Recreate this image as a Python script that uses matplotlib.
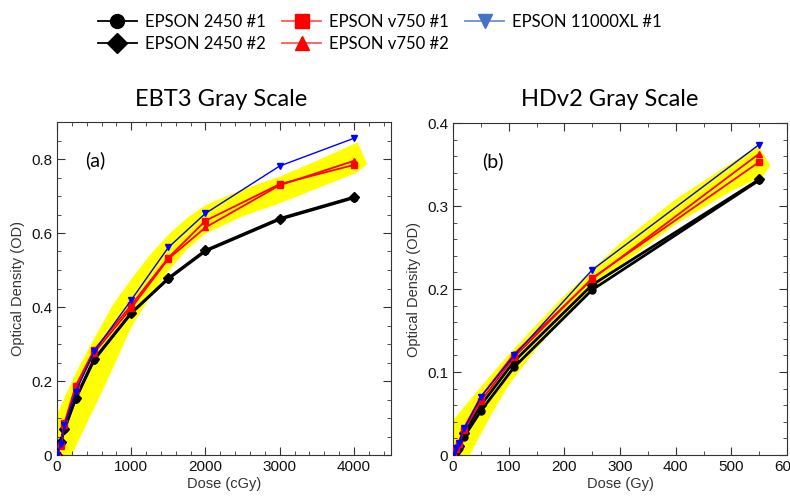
import numpy as np
import matplotlib
matplotlib.use('Agg')
import matplotlib.pyplot as plt
from matplotlib.lines import Line2D
from matplotlib.ticker import MultipleLocator, FuncFormatter

plt.rcParams['font.family'] = ['Liberation Sans', 'DejaVu Sans']
label_font = ['Lato', 'DejaVu Sans']

# EBT3 (left panel), dose in cGy
dose_a = [0, 50, 100, 250, 500, 1000, 1500, 2000, 3000, 4000]
a_2450_1 = [0.0, 0.033, 0.069, 0.151, 0.257, 0.384, 0.476, 0.551, 0.637, 0.695]
a_2450_2 = [0.0, 0.036, 0.071, 0.153, 0.259, 0.383, 0.478, 0.553, 0.639, 0.697]
a_v750_1 = [0.0, 0.028, 0.086, 0.186, 0.284, 0.405, 0.533, 0.633, 0.732, 0.784]
a_v750_2 = [0.0, 0.024, 0.080, 0.176, 0.276, 0.397, 0.530, 0.615, 0.729, 0.795]
a_11000 = [0.0, 0.030, 0.080, 0.170, 0.280, 0.419, 0.561, 0.653, 0.781, 0.856]

# yellow band edges (left)
band_a_up_x = [0, 250, 500, 750, 1000, 1250, 1500, 1750, 2000, 2500, 3000, 3500, 4050, 4180]
band_a_up_y = [0.11, 0.22, 0.315, 0.405, 0.475, 0.54, 0.595, 0.64, 0.675, 0.718, 0.752, 0.795, 0.845, 0.786]
band_a_lo_x = [4030, 3500, 3000, 2500, 2000, 1750, 1500, 1250, 1000, 800, 600, 400, 200, 0]
band_a_lo_y = [0.762, 0.72, 0.68, 0.645, 0.598, 0.555, 0.497, 0.425, 0.345, 0.255, 0.168, 0.085, 0.0, 0.0]

# HDv2 (right panel), dose in Gy
dose_b = [0, 5, 10, 20, 50, 110, 250, 550]
b_2450_1 = [0.0, 0.004, 0.009, 0.022, 0.053, 0.106, 0.199, 0.331]
b_2450_2 = [0.0, 0.005, 0.011, 0.026, 0.060, 0.113, 0.205, 0.332]
b_v750_1 = [0.0, 0.007, 0.013, 0.030, 0.065, 0.118, 0.213, 0.353]
b_v750_2 = [0.0, 0.008, 0.015, 0.033, 0.070, 0.122, 0.212, 0.363]
b_11000 = [0.0, 0.008, 0.014, 0.032, 0.070, 0.120, 0.223, 0.374]

band_b_up_x = [0, 50, 100, 150, 200, 300, 400, 500, 548, 570]
band_b_up_y = [0.042, 0.082, 0.121, 0.157, 0.192, 0.255, 0.308, 0.352, 0.373, 0.349]
band_b_lo_x = [557, 500, 400, 300, 250, 200, 150, 100, 70, 30, 0]
band_b_lo_y = [0.336, 0.318, 0.278, 0.228, 0.199, 0.167, 0.128, 0.084, 0.050, 0.0, 0.0]

series_style = [
    ('EPSON 2450 #1', 'black', 'o', 2.0),
    ('EPSON 2450 #2', 'black', 'D', 2.0),
    ('EPSON v750 #1', 'red', 's', 1.3),
    ('EPSON v750 #2', 'red', '^', 1.3),
    ('EPSON 11000XL #1', 'blue', 'v', 1.0),
]

fig = plt.figure(figsize=(7.9, 4.98), dpi=100)
ax1 = fig.add_axes([57/790, 1-455/498, 334/790, 333/498])
ax2 = fig.add_axes([453/790, 1-455/498, 334/790, 332/498])

def draw(ax, dose, ys, bx, by):
    ax.fill(bx, by, color='yellow', lw=0, zorder=1)
    for (name, c, m, lw), y in zip(series_style, ys):
        ax.plot(dose, y, color=c, marker=m, ms=5, lw=lw, zorder=3)

draw(ax1, dose_a, [a_2450_1, a_2450_2, a_v750_1, a_v750_2, a_11000],
     band_a_up_x + band_a_lo_x, band_a_up_y + band_a_lo_y)
draw(ax2, dose_b, [b_2450_1, b_2450_2, b_v750_1, b_v750_2, b_11000],
     band_b_up_x + band_b_lo_x, band_b_up_y + band_b_lo_y)

fmt = FuncFormatter(lambda v, p: '0' if abs(v) < 1e-9 else ('%g' % v))

ax1.set_xlim(0, 4500)
ax1.set_ylim(0, 0.9)
ax1.set_xticks([0, 1000, 2000, 3000, 4000])
ax1.set_yticks([0, 0.2, 0.4, 0.6, 0.8])
ax1.xaxis.set_minor_locator(MultipleLocator(200))
ax1.yaxis.set_minor_locator(MultipleLocator(0.05))

ax2.set_xlim(0, 600)
ax2.set_ylim(0, 0.4)
ax2.set_xticks([0, 100, 200, 300, 400, 500, 600])
ax2.set_yticks([0, 0.1, 0.2, 0.3, 0.4])
ax2.xaxis.set_minor_locator(MultipleLocator(50))
ax2.yaxis.set_minor_locator(MultipleLocator(0.02))

for ax, xl in [(ax1, 'Dose (cGy)'), (ax2, 'Dose (Gy)')]:
    ax.yaxis.set_major_formatter(fmt)
    ax.tick_params(which='both', direction='in', top=True, right=True,
                   labelsize=11, color='#333333', labelcolor='#111111')
    ax.tick_params(which='major', length=6)
    ax.tick_params(which='minor', length=3)
    for s in ax.spines.values():
        s.set_color('#333333')
    ax.set_xlabel(xl, fontsize=10.5, color='#333333', labelpad=2)
    ax.set_ylabel('Optical Density (OD)', fontsize=10.5, color='#333333', labelpad=4)

ax1.text(0.084, 0.886, '(a)', transform=ax1.transAxes, fontsize=14,
         family=label_font, va='center')
ax2.text(0.087, 0.886, '(b)', transform=ax2.transAxes, fontsize=14,
         family=label_font, va='center')

fig.text(221/790, 1-99/498, 'EBT3 Gray Scale', ha='center', va='center',
         fontsize=17, family=label_font)
fig.text(610/790, 1-99/498, 'HDv2 Gray Scale', ha='center', va='center',
         fontsize=17, family=label_font)

legend_line = {'black': 'black', 'red': '#ff5a5a', 'blue': '#6f8fd6'}
handles = [Line2D([], [], color=legend_line[c], marker=m, ms=10, lw=1.3,
                  markerfacecolor=c if c != 'blue' else '#4472c4',
                  markeredgecolor=c if c != 'blue' else '#4472c4')
           for (name, c, m, lw) in series_style]
labels = [s[0] for s in series_style]
fig.legend(handles, labels, ncol=3, loc='center', bbox_to_anchor=(380/790, 1-33/498),
           frameon=False, prop={'family': label_font, 'size': 12},
           handlelength=2.3, columnspacing=1.0, labelspacing=0.4, handletextpad=0.5)

fig.savefig('out.png', dpi=100)
